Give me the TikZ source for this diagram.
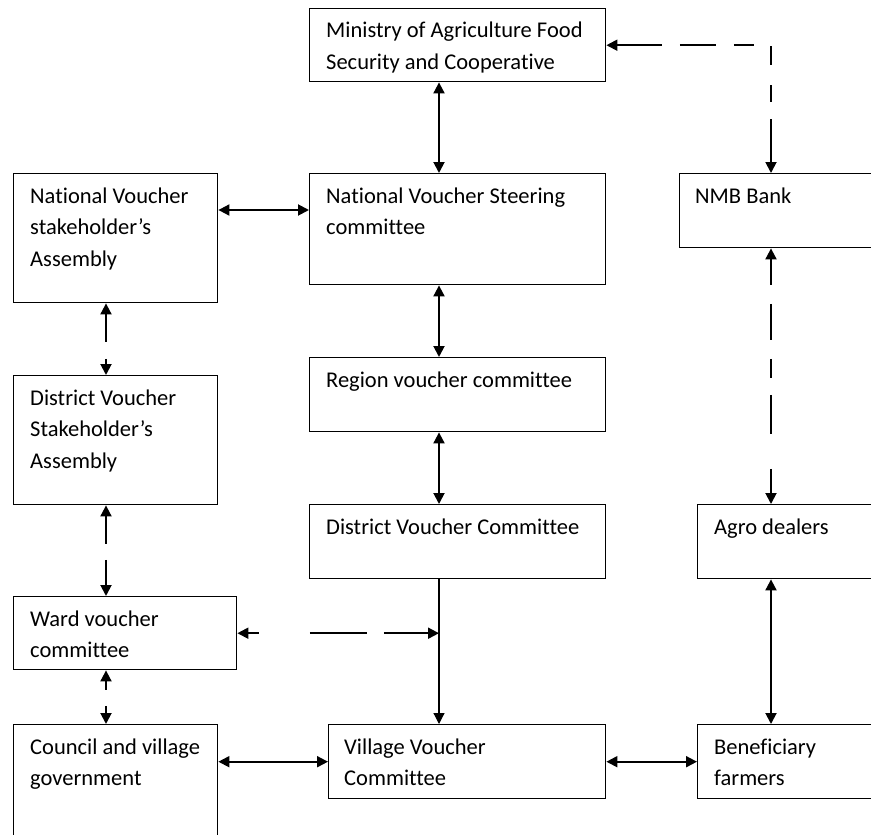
\documentclass[tikz,border=0pt]{standalone}
\usepackage{fontspec}
\setmainfont{Carlito}[Ligatures=NoCommon]
\usetikzlibrary{arrows.meta,calc}
\begin{document}
\begin{tikzpicture}[x=1pt,y=-1pt,
  box/.style={draw,line width=1.4pt,rectangle,inner sep=0pt,anchor=north west},
  txt/.style={anchor=base west,inner sep=0pt,align=left,font=\fontsize{22.5}{31.7}\selectfont},
  biarrow/.style={line width=1.9pt,{Triangle[length=11pt,width=11pt]}-{Triangle[length=11pt,width=11pt]}},
  onearrow/.style={line width=1.2pt,-{Triangle[length=11pt,width=11pt]}}]
\useasboundingbox (0,0) rectangle (871,835);
\clip (0,0) rectangle (871,835);
% boxes
\node[box,minimum width=296pt,minimum height=73pt] (min) at (309,8) {};
\node[box,minimum width=296pt,minimum height=111pt] (nvsc) at (309,173) {};
\node[box,minimum width=240pt,minimum height=74pt] (nmb) at (679,173) {};
\node[box,minimum width=204pt,minimum height=129pt] (nvsa) at (13,173) {};
\node[box,minimum width=204pt,minimum height=129pt] (dvsa) at (13,375) {};
\node[box,minimum width=296pt,minimum height=74pt] (region) at (309,357) {};
\node[box,minimum width=296pt,minimum height=74pt] (dvc) at (309,504) {};
\node[box,minimum width=240pt,minimum height=74pt] (agro) at (697,504) {};
\node[box,minimum width=223pt,minimum height=73pt] (ward) at (13,596) {};
\node[box,minimum width=204pt,minimum height=160pt] (council) at (13,724) {};
\node[box,minimum width=277pt,minimum height=74pt] (village) at (328,724) {};
\node[box,minimum width=240pt,minimum height=74pt] (benef) at (697,724) {};
% texts (anchor = baseline of last line)
\node[txt] (tmin) at ([xshift=17pt,yshift=-61.7pt]min.north west) {Ministry of Agriculture Food\\Security and Cooperative};
\node[txt] (tnvsc) at ([xshift=17pt,yshift=-61.7pt]nvsc.north west) {National Voucher Steering\\committee};
\node[txt] (tnmb) at ([xshift=16pt,yshift=-30pt]nmb.north west) {NMB Bank};
\node[txt] (tnvsa) at ([xshift=17pt,yshift=-93.4pt]nvsa.north west) {National Voucher\\stakeholder’s\\Assembly};
\node[txt] (tdvsa) at ([xshift=17pt,yshift=-93.4pt]dvsa.north west) {District Voucher\\Stakeholder’s\\Assembly};
\node[txt] (tregion) at ([xshift=17pt,yshift=-30pt]region.north west) {Region voucher committee};
\node[txt] (tdvc) at ([xshift=17pt,yshift=-30pt]dvc.north west) {District Voucher Committee};
\node[txt] (tagro) at ([xshift=17pt,yshift=-30pt]agro.north west) {Agro dealers};
\node[txt] (tward) at ([xshift=17pt,yshift=-61.7pt]ward.north west) {Ward voucher\\committee};
\node[txt] (tcouncil) at ([xshift=17pt,yshift=-61.7pt]council.north west) {Council and village\\government};
\node[txt] (tvillage) at ([xshift=16pt,yshift=-61.7pt]village.north west) {Village Voucher\\Committee};
\node[txt] (tbenef) at ([xshift=17pt,yshift=-61.7pt]benef.north west) {Beneficiary\\farmers};
% helper coordinates
\coordinate (rx) at (771,0);
\coordinate (cx) at (439,0);
\coordinate (lx) at (106,0);
% connectors
\draw[biarrow,dash pattern=on 45pt off 18pt on 36pt off 18pt on 20pt off 18pt on 19pt off 20pt on 17pt off 17pt on 80pt] (min.east) -| (rx |- nmb.north);
\draw[biarrow] (cx |- min.south) -- (cx |- nvsc.north);
\draw[biarrow] ([yshift=-37pt]nvsa.north east) -- ([yshift=-37pt]nvsc.north west);
\draw[biarrow] (cx |- nvsc.south) -- (cx |- region.north);
\draw[biarrow] (cx |- region.south) -- (cx |- dvc.north);
\draw[biarrow,dash pattern=on 28pt off 17pt on 100pt] (lx |- nvsa.south) -- (lx |- dvsa.north);
\draw[biarrow,dash pattern=on 28pt off 16pt on 100pt] (lx |- dvsa.south) -- (lx |- ward.north);
\draw[biarrow,dash pattern=on 9pt off 16pt on 100pt] (lx |- ward.south) -- (lx |- council.north);
\draw[onearrow] (cx |- dvc.south) -- (cx |- village.north);
\coordinate (wj) at (cx |- ward.east);
\draw[biarrow,dash pattern=on 11pt off 51pt on 57pt off 17pt on 100pt] (ward.east) -- (wj);
\draw[biarrow] (council.east |- village.west) -- (village.west);
\draw[biarrow] (village.east) -- (benef.west);
\draw[biarrow] (rx |- agro.south) -- (rx |- benef.north);
\draw[biarrow,dash pattern=on 26pt off 19pt on 36pt off 19pt on 19pt off 17pt on 39pt off 35pt on 80pt] (rx |- nmb.south) -- (rx |- agro.north);
\end{tikzpicture}
\end{document}
